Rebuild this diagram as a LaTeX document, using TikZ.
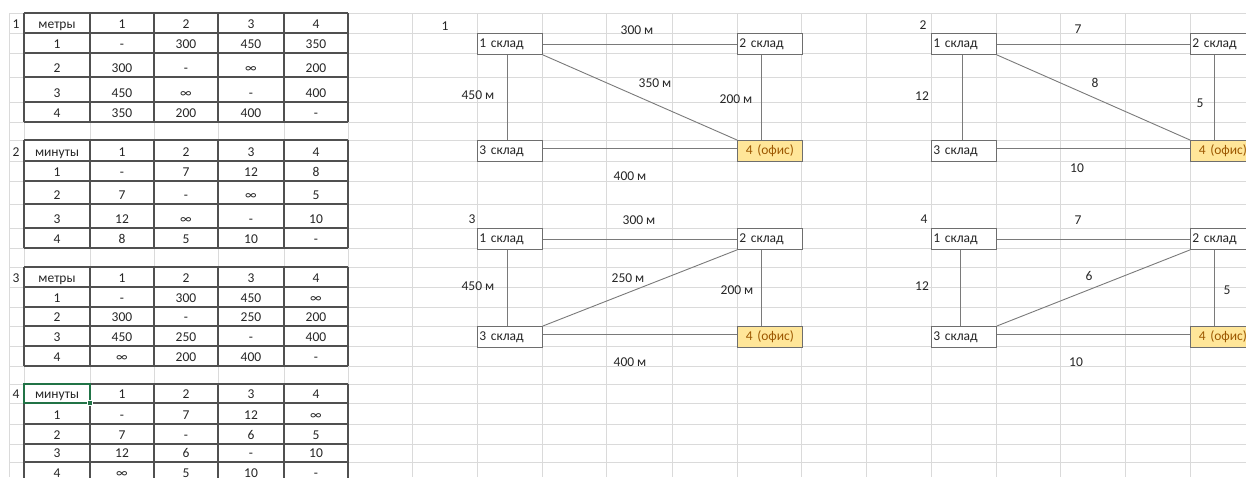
\documentclass[tikz,border=0pt]{standalone}
\usepackage{fontspec}
\setmainfont{Carlito}
\definecolor{gridc}{HTML}{DADADA}
\definecolor{tabc}{HTML}{505050}
\definecolor{txt}{HTML}{262626}
\definecolor{boxc}{HTML}{6E6E6E}
\definecolor{connc}{HTML}{7A7A7A}
\definecolor{offfill}{HTML}{FFE699}
\definecolor{offtext}{HTML}{9C5700}
\definecolor{selc}{HTML}{217346}
\tikzset{
  cell/.style={anchor=base, inner sep=0pt, text=txt},
  lbl/.style={anchor=base, inner sep=0pt, text=txt},
  tabline/.style={draw=tabc, line width=1.1pt},
  gridline/.style={draw=gridc, line width=0.8pt},
  box/.style={draw=boxc, line width=0.9pt, anchor=north west, minimum width=65pt, minimum height=21pt,
    text width=61pt, align=left, inner xsep=2pt, inner ysep=0pt, text height=10pt, text depth=3pt, fill=white, text=txt},
  office/.style={box, fill=offfill, text=offtext, align=center},
  conn/.style={draw=connc, line width=0.9pt}
}
\begin{document}
\begin{tikzpicture}[x=1pt,y=-1pt, every node/.append style={font=\fontsize{13.5}{16}\selectfont}]
\useasboundingbox (0,0) rectangle (1246,477);
\clip (0,0) rectangle (1246,477);
\fill[white] (0,0) rectangle (1246,477);
% spreadsheet grid
\foreach \gy in {13,33,53,77,102,122,140,161,181,204,228,248,267,287,307,326,346,366,384,403,424,444,462}
  \draw[gridline] (9,\gy) -- (1246,\gy);
\foreach \gx in {9,24,90,154,218,284,348,412,477,542,606,672,737,801,866,931,996,1060,1125,1190}
  \draw[gridline] (\gx,13) -- (\gx,477);

% ---------- tables ----------
% table 1
\foreach \gx in {24,90,154,218,284,348} \draw[tabline] (\gx,13) -- (\gx,122);
\foreach \gy in {13,33,53,77,102,122} \draw[tabline] (24,\gy) -- (348,\gy);
\node[lbl] (t1lab) at (16,28.5) {1};
\foreach \ya/\ca/\cb/\cc/\cd/\ce [count=\i] in {33/метры/1/2/3/4, 53/1/-/300/450/350, 77/2/300/-/∞/200, 102/3/450/∞/-/400, 122/4/350/200/400/-}{
  \node[cell] (t1-\i-a) at (57,\ya-4.5) {\ca};
  \node[cell] (t1-\i-b) at (122,\ya-4.5) {\cb};
  \node[cell] (t1-\i-c) at (186,\ya-4.5) {\cc};
  \node[cell] (t1-\i-d) at (251,\ya-4.5) {\cd};
  \node[cell] (t1-\i-e) at (316,\ya-4.5) {\ce};
}
% table 2
\foreach \gx in {24,90,154,218,284,348} \draw[tabline] (\gx,140) -- (\gx,248);
\foreach \gy in {140,161,181,204,228,248} \draw[tabline] (24,\gy) -- (348,\gy);
\node[lbl] (t2lab) at (16,156.5) {2};
\foreach \ya/\ca/\cb/\cc/\cd/\ce [count=\i] in {161/минуты/1/2/3/4, 181/1/-/7/12/8, 204/2/7/-/∞/5, 228/3/12/∞/-/10, 248/4/8/5/10/-}{
  \node[cell] (t2-\i-a) at (57,\ya-4.5) {\ca};
  \node[cell] (t2-\i-b) at (122,\ya-4.5) {\cb};
  \node[cell] (t2-\i-c) at (186,\ya-4.5) {\cc};
  \node[cell] (t2-\i-d) at (251,\ya-4.5) {\cd};
  \node[cell] (t2-\i-e) at (316,\ya-4.5) {\ce};
}
% table 3
\foreach \gx in {24,90,154,218,284,348} \draw[tabline] (\gx,267) -- (\gx,366);
\foreach \gy in {267,287,307,326,346,366} \draw[tabline] (24,\gy) -- (348,\gy);
\node[lbl] (t3lab) at (16,282.5) {3};
\foreach \ya/\ca/\cb/\cc/\cd/\ce [count=\i] in {287/метры/1/2/3/4, 307/1/-/300/450/∞, 326/2/300/-/250/200, 346/3/450/250/-/400, 366/4/∞/200/400/-}{
  \node[cell] (t3-\i-a) at (57,\ya-4.5) {\ca};
  \node[cell] (t3-\i-b) at (122,\ya-4.5) {\cb};
  \node[cell] (t3-\i-c) at (186,\ya-4.5) {\cc};
  \node[cell] (t3-\i-d) at (251,\ya-4.5) {\cd};
  \node[cell] (t3-\i-e) at (316,\ya-4.5) {\ce};
}
% table 4
\foreach \gx in {24,90,154,218,284,348} \draw[tabline] (\gx,384) -- (\gx,482);
\foreach \gy in {384,403,424,444,462,482} \draw[tabline] (24,\gy) -- (348,\gy);
\node[lbl] (t4lab) at (16,398.5) {4};
\foreach \ya/\ca/\cb/\cc/\cd/\ce [count=\i] in {403/минуты/1/2/3/4, 424/1/-/7/12/∞, 444/2/7/-/6/5, 462/3/12/6/-/10, 482/4/∞/5/10/-}{
  \node[cell] (t4-\i-a) at (57,\ya-4.5) {\ca};
  \node[cell] (t4-\i-b) at (122,\ya-4.5) {\cb};
  \node[cell] (t4-\i-c) at (186,\ya-4.5) {\cc};
  \node[cell] (t4-\i-d) at (251,\ya-4.5) {\cd};
  \node[cell] (t4-\i-e) at (316,\ya-4.5) {\ce};
}
% selected cell
\draw[selc, line width=1.8pt] (24,384) rectangle (90,403);
\fill[selc, draw=white, line width=0.6pt] (87.5,400.5) rectangle (92.5,405.5);

% ---------- diagram 1 ----------
\node[lbl] (n1) at (445,30) {1};
\node[box] (a1) at (477,33) {1 склад};
\node[box] (a2) at (737,33) {2 склад};
\node[box] (a3) at (477,140) {3 склад};
\node[office] (a4) at (737,140) {4 (офис)};
\draw[conn] (a1.east) -- (a2.west);
\draw[conn] ([yshift=2.5pt]a3.east) -- ([yshift=2.5pt]a4.west);
\draw[conn] ([xshift=-2.5pt]a1.south) -- ([xshift=-2.5pt]a3.north);
\draw[conn] ([xshift=-8.5pt]a2.south) -- ([xshift=-8.5pt]a4.north);
\draw[conn] (a1.south east) -- (a4.north west);
\node[lbl] (a12) at (637,34) {300 м};
\node[lbl] (a14) at (655,87) {350 м};
\node[lbl] (a13) at (478,99.5) {450 м};
\node[lbl] (a24) at (736,103) {200 м};
\node[lbl] (a34) at (630,180) {400 м};

% ---------- diagram 3 ----------
\node[lbl] (n3) at (472,223) {3};
\node[box] (c1) at (477,228) {1 склад};
\node[box] (c2) at (737,228) {2 склад};
\node[box] (c3) at (477,326) {3 склад};
\node[office] (c4) at (737,326) {4 (офис)};
\draw[conn] (c1.east) -- (c2.west);
\draw[conn] ([yshift=3pt]c3.east) -- ([yshift=3pt]c4.west);
\draw[conn] ([xshift=-2.5pt]c1.south) -- ([xshift=-2.5pt]c3.north);
\draw[conn] ([xshift=-8.5pt]c2.south) -- ([xshift=-8.5pt]c4.north);
\draw[conn] (c3.north east) -- (c2.south west);
\node[lbl] (c12) at (639,224) {300 м};
\node[lbl] (c23) at (628,282) {250 м};
\node[lbl] (c13) at (478,290) {450 м};
\node[lbl] (c24) at (737,294) {200 м};
\node[lbl] (c34) at (630,366.5) {400 м};

% ---------- diagram 2 ----------
\node[lbl] (n2) at (923,29.5) {2};
\node[box] (b1) at (931,33) {1 склад};
\node[box] (b2) at (1190,33) {2 склад};
\node[box] (b3) at (931,140) {3 склад};
\node[office] (b4) at (1190,140) {4 (офис)};
\draw[conn] (b1.east) -- (b2.west);
\draw[conn] ([yshift=2.5pt]b3.east) -- ([yshift=2.5pt]b4.west);
\draw[conn] ([xshift=-1.5pt]b1.south) -- ([xshift=-1.5pt]b3.north);
\draw[conn] ([xshift=-8.5pt]b2.south) -- ([xshift=-8.5pt]b4.north);
\draw[conn] (b1.south east) -- (b4.north west);
\node[lbl] (b12) at (1078,33) {7};
\node[lbl] (b14) at (1095,87) {8};
\node[lbl] (b13) at (922,100) {12};
\node[lbl] (b24) at (1200,107) {5};
\node[lbl] (b34) at (1077,172.5) {10};

% ---------- diagram 4 ----------
\node[lbl] (n4) at (924,223) {4};
\node[box] (e1) at (931,228) {1 склад};
\node[box] (e2) at (1190,228) {2 склад};
\node[box] (e3) at (931,326) {3 склад};
\node[office] (e4) at (1190,326) {4 (офис)};
\draw[conn] (e1.east) -- (e2.west);
\draw[conn] ([yshift=3pt]e3.east) -- ([yshift=3pt]e4.west);
\draw[conn] ([xshift=-3.5pt]e1.south) -- ([xshift=-3.5pt]e3.north);
\draw[conn] ([xshift=-9pt]e2.south) -- ([xshift=-9pt]e4.north);
\draw[conn] (e3.north east) -- (e2.south west);
\node[lbl] (e12) at (1078,224) {7};
\node[lbl] (e23) at (1089,280.5) {6};
\node[lbl] (e13) at (922,290) {12};
\node[lbl] (e24) at (1227,294) {5};
\node[lbl] (e34) at (1076,366.5) {10};
\end{tikzpicture}
\end{document}
